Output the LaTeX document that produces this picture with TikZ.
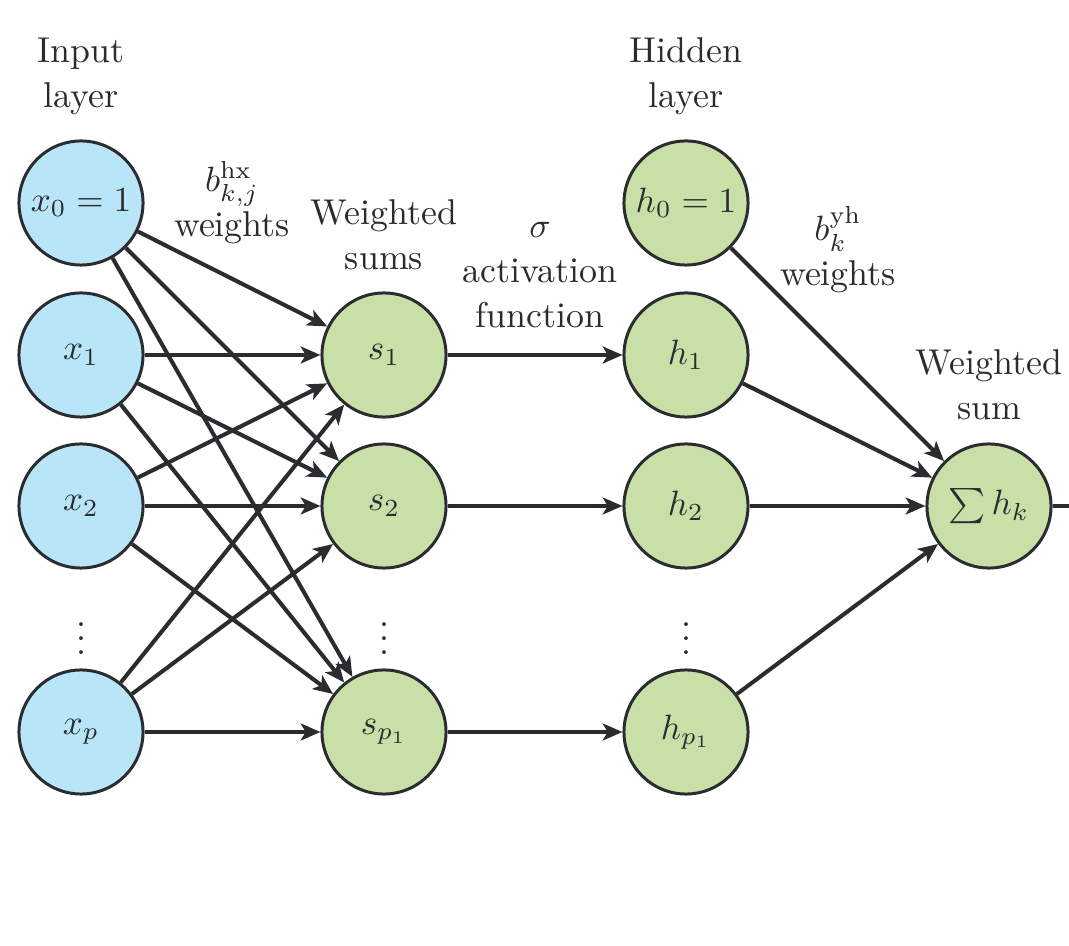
\documentclass[tikz,border=0pt]{standalone}
\usetikzlibrary{arrows.meta}
\definecolor{ink}{HTML}{2B2C30}
\definecolor{inblue}{HTML}{B8E5F8}
\definecolor{hgreen}{HTML}{C8E0A7}
\begin{document}
\begin{tikzpicture}[x=0.01cm,y=-0.01cm,
  neuron/.style={circle,draw=ink,line width=0.85pt,minimum size=1.24cm,inner sep=0pt,text=ink,font=\fontsize{10.3}{12.8}\selectfont},
  inneuron/.style={neuron,fill=inblue},
  hidneuron/.style={neuron,fill=hgreen},
  lbl/.style={align=center,text=ink,font=\fontsize{10.2}{12.8}\selectfont,inner sep=0pt},
  vdot/.style={text=ink,inner sep=0pt,font=\fontsize{10.2}{12.8}\selectfont},
  conn/.style={draw=ink,line width=1.15pt,-{Stealth[length=5.6pt,width=4.8pt,inset=1.4pt]}}]
\useasboundingbox (0,0) rectangle (1069,946);
% input layer
\node[inneuron] (x0) at (81,203) {$x_0=1$};
\node[inneuron] (x1) at (81,355) {$x_1$};
\node[inneuron] (x2) at (81,506) {$x_2$};
\node[vdot] (xd) at (81,628) {$\vdots$};
\node[inneuron] (xp) at (81,732) {$x_p$};
% weighted sums
\node[hidneuron] (s1) at (384,355) {$s_1$};
\node[hidneuron] (s2) at (384,506) {$s_2$};
\node[vdot] (sd) at (384,628) {$\vdots$};
\node[hidneuron] (sp) at (384,732) {$s_{p_1}$};
% hidden layer
\node[hidneuron] (h0) at (686,203) {$h_0=1$};
\node[hidneuron] (h1) at (686,355) {$h_1$};
\node[hidneuron] (h2) at (686,506) {$h_2$};
\node[vdot] (hd) at (686,628) {$\vdots$};
\node[hidneuron] (hp) at (686,732) {$h_{p_1}$};
% output sum
\node[hidneuron] (sum) at (989,506) {$\sum h_k$};
\coordinate (out) at (1075,506);
% labels
\node[lbl] (linput) at (81,76) {Input\\layer};
\node[lbl] (lhidden) at (686,76) {Hidden\\layer};
\node[lbl] (lbhx) at (232,203) {$b^{\mathrm{hx}}_{k,j}$\\weights};
\node[lbl] (lws) at (384,235) {Weighted\\sums};
\node[lbl] (lact) at (540,275) {$\sigma$\\activation\\function};
\node[lbl] (lbyh) at (838,250) {$b^{\mathrm{yh}}_{k}$\\weights};
\node[lbl] (lwsum) at (989,385) {Weighted\\sum};
% connections input -> sums
\foreach \i in {x0,x1,x2,xp}{
  \foreach \j in {s1,s2,sp}{
    \draw[conn] (\i) -- (\j);
  }
}
% sums -> hidden
\draw[conn] (s1) -- (h1);
\draw[conn] (s2) -- (h2);
\draw[conn] (sp) -- (hp);
% hidden -> sum
\draw[conn] (h0) -- (sum);
\draw[conn] (h1) -- (sum);
\draw[conn] (h2) -- (sum);
\draw[conn] (hp) -- (sum);
\draw[draw=ink,line width=1.15pt] (sum) -- (out);
\end{tikzpicture}
\end{document}
